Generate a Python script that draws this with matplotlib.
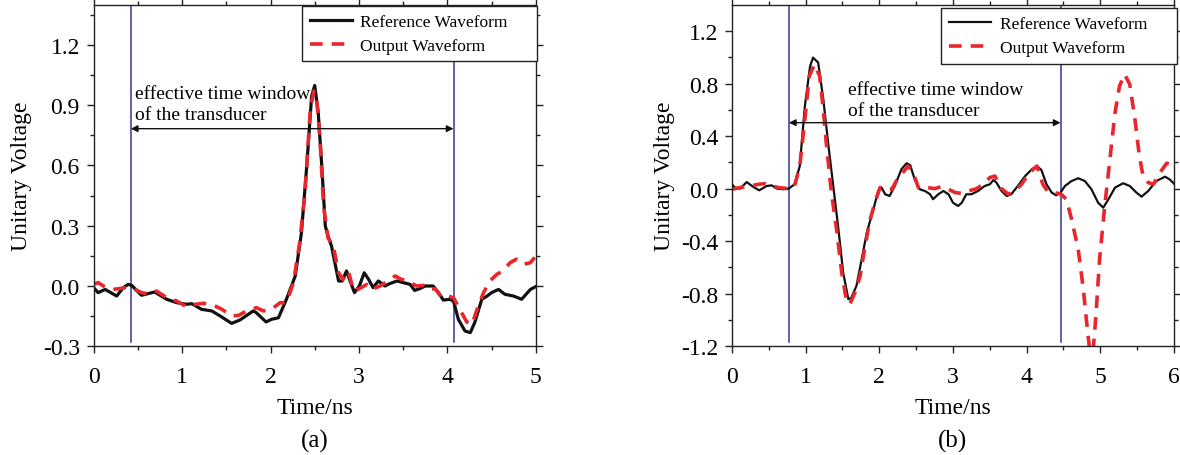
import numpy as np
import matplotlib
matplotlib.use('Agg')
import matplotlib.pyplot as plt

plt.rcParams['font.family'] = ['Liberation Serif', 'DejaVu Serif']

# ---- panel (a) ----
ta_ref = [0, 0.05, 0.13, 0.26, 0.335, 0.39, 0.43, 0.54, 0.66, 0.69, 0.825, 0.94, 1.05, 1.11, 1.22,
          1.335, 1.43, 1.56, 1.655, 1.805, 1.84, 1.95, 2.01, 2.09, 2.18, 2.28, 2.35, 2.41, 2.465, 2.50,
          2.54, 2.58, 2.62, 2.65, 2.69, 2.77, 2.81, 2.86, 2.90, 2.95, 3.005, 3.06, 3.11, 3.16, 3.22,
          3.295, 3.35, 3.43, 3.50, 3.58, 3.63, 3.69, 3.75, 3.84, 3.90, 3.955, 4.03, 4.07, 4.125, 4.20,
          4.26, 4.31, 4.39, 4.45, 4.50, 4.58, 4.65, 4.75, 4.84, 4.94, 5.0]
va_ref = [-0.008, -0.033, -0.017, -0.05, -0.008, 0.008, 0.003, -0.046, -0.033, -0.03, -0.066, -0.083,
          -0.091, -0.088, -0.116, -0.124, -0.149, -0.186, -0.169, -0.124, -0.133, -0.179, -0.166, -0.158,
          -0.066, 0.05, 0.265, 0.597, 0.945, 0.998, 0.862, 0.597, 0.299, 0.249, 0.199, 0.025, 0.025,
          0.075, 0.025, -0.033, 0.0, 0.066, 0.033, -0.008, 0.025, 0.0, 0.012, 0.025, 0.017, 0.008,
          -0.022, -0.013, 0.0, 0.0, -0.033, -0.07, -0.066, -0.075, -0.166, -0.224, -0.232, -0.182,
          -0.066, -0.05, -0.033, -0.017, -0.041, -0.05, -0.066, -0.017, -0.003]

ta_out = [0, 0.05, 0.11, 0.22, 0.37, 0.45, 0.54, 0.64, 0.71, 0.825, 0.94, 1.05, 1.15, 1.24, 1.335,
          1.45, 1.56, 1.64, 1.73, 1.84, 1.92, 2.01, 2.11, 2.18, 2.26, 2.33, 2.39, 2.45, 2.49, 2.52,
          2.56, 2.60, 2.65, 2.71, 2.77, 2.82, 2.88, 2.94, 2.99, 3.09, 3.145, 3.24, 3.33, 3.41, 3.48,
          3.56, 3.65, 3.73, 3.79, 3.86, 3.94, 4.01, 4.07, 4.14, 4.22, 4.28, 4.33, 4.41, 4.48, 4.56,
          4.63, 4.71, 4.78, 4.86, 4.94, 5.0]
va_out = [0.008, 0.017, 0.0, -0.017, -0.008, -0.013, -0.033, -0.041, -0.025, -0.058, -0.075, -0.103,
          -0.091, -0.086, -0.091, -0.116, -0.149, -0.146, -0.124, -0.108, -0.124, -0.116, -0.083,
          -0.083, 0.017, 0.216, 0.464, 0.879, 0.97, 0.945, 0.73, 0.398, 0.24, 0.199, 0.066, 0.033,
          0.075, -0.025, -0.017, 0.008, -0.017, 0.0, 0.025, 0.05, 0.033, 0.025, 0.0, 0.003, -0.017,
          -0.013, -0.058, -0.05, -0.058, -0.116, -0.179, -0.191, -0.124, -0.033, 0.025, 0.058, 0.075,
          0.116, 0.133, 0.108, 0.116, 0.149]

# ---- panel (b) ----
tb_ref = [0, 0.04, 0.11, 0.2, 0.29, 0.37, 0.47, 0.54, 0.61, 0.70, 0.77, 0.85, 0.92, 0.99, 1.06, 1.10,
          1.17, 1.24, 1.31, 1.375, 1.44, 1.51, 1.58, 1.62, 1.69, 1.76, 1.83, 1.92, 1.985, 2.03, 2.08,
          2.14, 2.21, 2.30, 2.37, 2.42, 2.48, 2.55, 2.62, 2.69, 2.73, 2.80, 2.87, 2.94, 3.00, 3.07,
          3.12, 3.18, 3.25, 3.34, 3.43, 3.50, 3.55, 3.59, 3.66, 3.73, 3.79, 3.88, 3.98, 4.07, 4.14,
          4.20, 4.27, 4.34, 4.40, 4.46, 4.52, 4.61, 4.70, 4.79, 4.88, 4.97, 5.04, 5.11, 5.20, 5.31,
          5.40, 5.49, 5.56, 5.65, 5.76, 5.88, 5.94, 6.0]
vb_ref = [0.033, 0.008, 0.0, 0.05, 0.013, -0.013, 0.02, 0.025, 0.0, -0.005, 0.0, 0.033, 0.17, 0.63,
          0.93, 0.997, 0.96, 0.68, 0.325, 0.02, -0.284, -0.64, -0.842, -0.83, -0.74, -0.54, -0.335,
          -0.157, -0.018, 0.008, -0.043, -0.056, 0.02, 0.147, 0.193, 0.178, 0.071, -0.005, -0.018,
          -0.043, -0.081, -0.043, -0.018, -0.043, -0.107, -0.132, -0.107, -0.043, -0.043, -0.018,
          0.02, 0.033, 0.066, 0.046, -0.018, -0.056, -0.043, 0.02, 0.096, 0.147, 0.172, 0.142, 0.033,
          -0.03, -0.051, -0.03, 0.02, 0.058, 0.079, 0.058, -0.005, -0.107, -0.145, -0.081, 0.008,
          0.041, 0.02, -0.03, -0.061, -0.018, 0.058, 0.091, 0.071, 0.038]

tb_out = [0, 0.11, 0.24, 0.36, 0.45, 0.52, 0.63, 0.77, 0.85, 0.92, 0.99, 1.05, 1.12, 1.19, 1.24, 1.28,
          1.35, 1.42, 1.49, 1.555, 1.60, 1.67, 1.74, 1.80, 1.87, 1.94, 2.01, 2.07, 2.17, 2.23, 2.32,
          2.39, 2.46, 2.53, 2.59, 2.66, 2.75, 2.84, 2.94, 3.03, 3.12, 3.21, 3.32, 3.41, 3.50, 3.57,
          3.66, 3.75, 3.84, 3.93, 4.04, 4.14, 4.22, 4.29, 4.38, 4.47, 4.54, 4.61, 4.70, 4.77, 4.81,
          4.86, 4.90, 4.94, 4.99, 5.06, 5.13, 5.20, 5.26, 5.33, 5.40, 5.47, 5.53, 5.58, 5.65, 5.72,
          5.81, 5.90, 5.96, 6.0]
vb_out = [-0.005, 0.008, 0.02, 0.033, 0.038, 0.025, 0.008, 0.0, 0.02, 0.17, 0.53, 0.857, 0.946, 0.857,
          0.604, 0.35, -0.03, -0.31, -0.64, -0.855, -0.88, -0.79, -0.665, -0.46, -0.246, -0.107,
          0.008, -0.005, -0.005, 0.058, 0.122, 0.172, 0.122, 0.008, -0.005, 0.008, 0.0, 0.015, -0.005,
          -0.03, -0.036, -0.018, 0.0, 0.033, 0.084, 0.096, 0.0, -0.043, -0.018, 0.033, 0.122, 0.172,
          0.033, -0.025, -0.03, -0.043, -0.081, -0.233, -0.462, -0.766, -0.994, -1.25, -1.25, -0.97,
          -0.538, -0.132, 0.223, 0.578, 0.78, 0.87, 0.794, 0.528, 0.249, 0.096, 0.046, 0.033, 0.122,
          0.193, 0.185, 0.172]

window_a = [0.42, 4.07]
window_b = [0.773, 4.46]

red = '#e8262b'
blue = '#34349a'

fig = plt.figure(figsize=(11.8, 4.56), dpi=100)
ax1 = fig.add_axes([0.0794, 0.2384, 0.3746, 0.7491])
ax2 = fig.add_axes([0.6203, 0.2384, 0.3746, 0.7491])


def style(ax, xmax, ylo, yticks, ymin_step):
    ax.set_xlim(0, xmax)
    ax.set_ylim(ylo, 1.4)
    ax.set_xticks(range(0, xmax + 1))
    ax.set_xticks(np.arange(0.5, xmax, 1.0), minor=True)
    ax.set_yticks(yticks)
    ax.set_yticks(np.arange(yticks[0] + ymin_step, 1.4, 2 * ymin_step), minor=True)
    ax.set_yticklabels(['%.1f' % v for v in yticks])
    ax.tick_params(which='both', direction='out', top=True, right=True, labelsize=17, width=1, colors='#222222')
    ax.tick_params(which='major', length=5)
    ax.tick_params(which='minor', length=3)
    ax.tick_params(axis='both', labelcolor='black')
    ax.tick_params(axis='x', which='major', pad=9)
    ax.tick_params(axis='y', which='major', pad=5)
    for s in ax.spines.values():
        s.set_color('#222222')
        s.set_linewidth(1)
    ax.set_xlabel('Time/ns', fontsize=17)
    ax.set_ylabel('Unitary Voltage', fontsize=17)


style(ax1, 5, -0.3, [-0.3, 0.0, 0.3, 0.6, 0.9, 1.2], 0.15)
style(ax2, 6, -1.2, [-1.2, -0.8, -0.4, 0.0, 0.4, 0.8, 1.2], 0.2)
ax1.xaxis.set_label_coords(0.5, -0.148)
ax2.xaxis.set_label_coords(0.5, -0.148)
ax1.yaxis.set_label_coords(-0.139, 0.5)
ax2.yaxis.set_label_coords(-0.129, 0.5)

# panel (a)
for x in window_a:
    ax1.axvline(x, ymin=0.012, ymax=1, color=blue, lw=1.1)
ax1.plot(ta_ref, va_ref, color='#111111', lw=2.3, label='Reference Waveform     ')
ax1.plot(ta_out, va_out, color=red, lw=2.6, dashes=(3.5, 2.5), label='Output Waveform')
ax1.annotate('', xy=(window_a[0], 0.783), xytext=(window_a[1], 0.783),
             arrowprops=dict(arrowstyle='<|-|>', color='#111111', lw=1, mutation_scale=10, shrinkA=0, shrinkB=0))
ax1.text(0.47, 0.81, 'effective time window\nof the transducer', fontsize=14, va='bottom', ha='left',
         linespacing=1.3)

# panel (b)
for x in window_b:
    ax2.axvline(x, ymin=0.012, ymax=1, color=blue, lw=1.1)
ax2.plot(tb_ref, vb_ref, color='#111111', lw=1.6, label='Reference Waveform     ')
ax2.plot(tb_out, vb_out, color=red, lw=2.6, dashes=(3.5, 2.5), label='Output Waveform')
ax2.annotate('', xy=(window_b[0], 0.502), xytext=(window_b[1], 0.502),
             arrowprops=dict(arrowstyle='<|-|>', color='#111111', lw=1, mutation_scale=10, shrinkA=0, shrinkB=0))
ax2.text(1.575, 0.53, 'effective time window\nof the transducer', fontsize=14, va='bottom', ha='left',
         linespacing=1.3)

for ax, off in ((ax1, (1.004, 0.997)), (ax2, (1.006, 0.99))):
    leg = ax.legend(loc='upper right', bbox_to_anchor=off, fontsize=12.5, fancybox=False,
                    edgecolor='#222222', framealpha=1, handlelength=2.4, handletextpad=0.5,
                    labelspacing=0.45, borderpad=0.45, borderaxespad=0)
    leg.get_frame().set_linewidth(1)

fig.text(0.2665, 0.032, '(a)', fontsize=18, ha='center', va='center')
fig.text(0.8076, 0.032, '(b)', fontsize=18, ha='center', va='center')

fig.savefig('out.png', dpi=100)
